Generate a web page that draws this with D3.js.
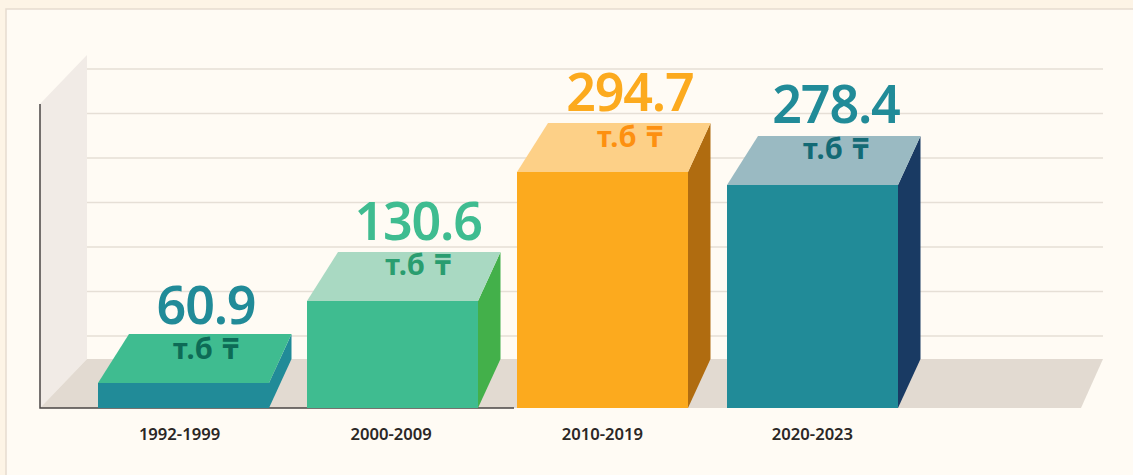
<!DOCTYPE html>
<html><head><meta charset="utf-8">
<script src="https://cdn.jsdelivr.net/npm/d3@7/dist/d3.min.js"></script>
<style>html,body{margin:0;padding:0;background:#fdf4e6;overflow:hidden}svg{display:block}</style>
</head><body><svg id="c" width="1133" height="475"></svg>
<script>
const categories = ["1992-1999","2000-2009","2010-2019","2020-2023"];
const values = [60.9,130.6,294.7,278.4];
const labels = ["60.9","130.6","294.7","278.4"];
const unit = "т.б ₸";
const frontColors = ["#218b98","#3fbc90","#fcaa1e","#218b98"];
const topColors = ["#3fbc90","#a9d9c2","#fdd087","#9abac2"];
const sideColors = ["#218b98","#43b04a","#b06c10","#193a63"];
const valueColors = ["#218b98","#3fbc90","#fcaa1e","#218b98"];
const unitColors = ["#0d6b56","#2a9d6f","#fd9010","#136a75"];
const gridTicks = [1,2,3,4,5,6,7];

const W=1133,H=475,FONT="'Noto Sans',sans-serif";
const svg=d3.select("#c");
const base=408,floorY=359,wallX=87,axisX=40;
const skewL=31,skewR=22.5,depthY=49;
const labelShift=[22.5,25,27,23.5], catShift=[-4,-2,-0.5,0];
const valueLift=[10,12,12,13], unitDrop=[25,23,24,23];

const x=d3.scaleBand().domain(categories).range([98,898]).paddingInner(0.1844).paddingOuter(0);
// The picture's bar heights are not proportional for the shortest bar, so the scale follows them piece by piece.
const y=d3.scaleLinear().domain([0,60.9,130.6,278.4,294.7]).range([base,383,301,185,172]);
const g=d3.scaleLinear().domain([0,7]).range([380.4,69]);

svg.append("rect").attr("width",W).attr("height",H).attr("fill","#fdf4e6");
svg.append("rect").attr("x",6).attr("y",9).attr("width",W).attr("height",H).attr("fill","#fffbf4").attr("stroke","#e6dccf").attr("stroke-width",1.5);

const line=d3.line();
const poly=(sel,pts,fill)=>sel.append("path").attr("d",line(pts)+"Z").attr("fill",fill);

poly(svg,[[axisX,104],[wallX,55],[wallX,floorY],[axisX,base]],"#f1ebe6");
svg.append("g").selectAll("line").data(gridTicks).join("line")
 .attr("x1",wallX).attr("x2",1103).attr("y1",d=>g(d)).attr("y2",d=>g(d))
 .attr("stroke","#e6dfd6").attr("stroke-width",1.5);
poly(svg,[[axisX,base],[wallX,floorY],[1103,floorY],[1081,base]],"#e2dad1");

svg.append("path").attr("d",line([[axisX,104],[axisX,base],[514,base]])).attr("fill","none").attr("stroke","#4a4644").attr("stroke-width",1.5);

const bars=svg.append("g").selectAll("g").data(values).join("g");
bars.each(function(v,i){
  const s=d3.select(this),x0=Math.floor(x(categories[i])+0.01),x1=Math.floor(x(categories[i])+x.bandwidth()+0.01),t=y(v);
  poly(s,[[x1,t],[x1+skewR,t-depthY],[x1+skewR,base-depthY],[x1,base]],sideColors[i]);
  poly(s,[[x0,t],[x0+skewL,t-depthY],[x1+skewR,t-depthY],[x1,t]],topColors[i]);
  s.append("rect").attr("x",x0).attr("y",t).attr("width",x1-x0).attr("height",base-t).attr("fill",frontColors[i]);
  const cx=x(categories[i])+x.bandwidth()/2+labelShift[i];
  s.append("text").attr("x",cx).attr("y",t-depthY-valueLift[i]).attr("text-anchor","middle")
   .attr("font-family",FONT).attr("font-weight",600).attr("font-size",52).attr("letter-spacing",-1.2).attr("fill",valueColors[i]).text(labels[i]);
  s.append("text").attr("x",cx).attr("y",t-depthY+unitDrop[i]).attr("text-anchor","middle")
   .attr("font-family",FONT).attr("font-weight",700).attr("font-size",29).attr("word-spacing",2).attr("fill",unitColors[i]).text(unit);
});

svg.append("g").selectAll("text").data(categories).join("text")
 .attr("x",(d,i)=>x(d)+x.bandwidth()/2+catShift[i]).attr("y",440).attr("text-anchor","middle")
 .attr("font-family",FONT).attr("font-weight",600).attr("font-size",16.6).attr("fill","#2b2725").text(d=>d);
</script></body></html>
